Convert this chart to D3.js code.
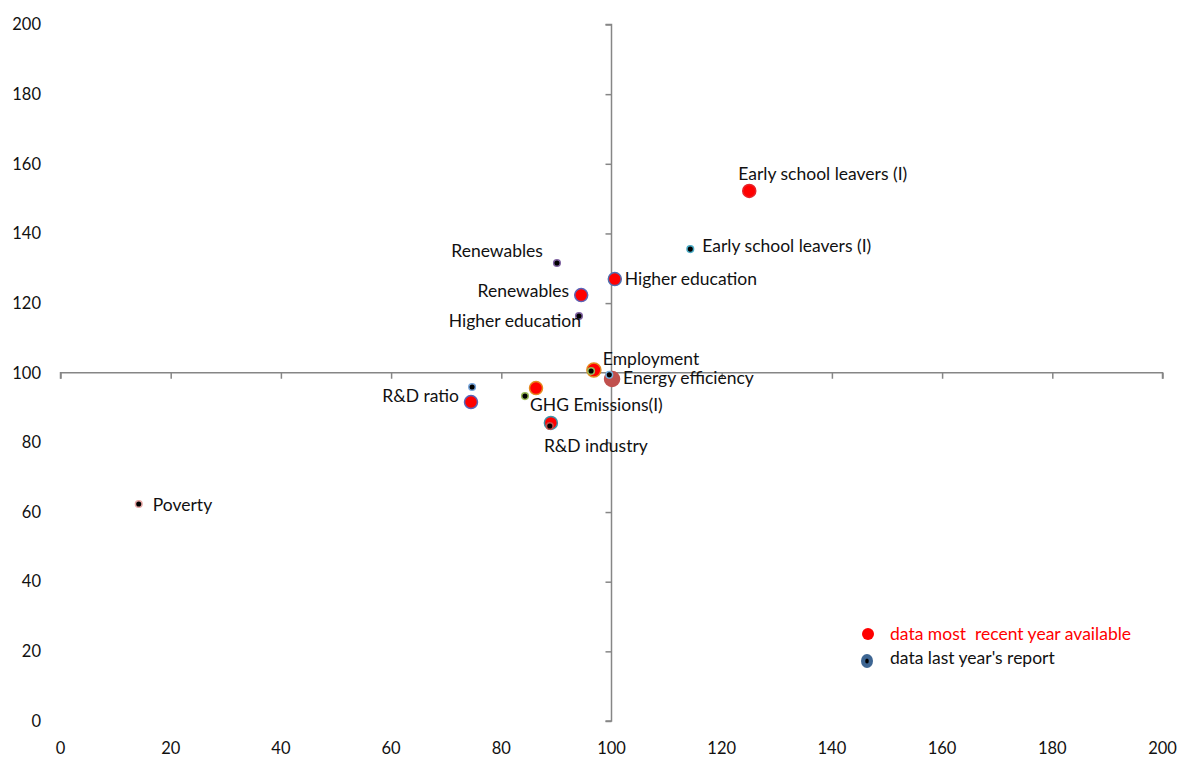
<!DOCTYPE html>
<html>
<head>
<meta charset="utf-8">
<script src="https://cdn.jsdelivr.net/npm/d3@7"></script>
<style>
  html, body { margin: 0; padding: 0; background: #fff; }
  svg { display: block; }
  text { font-family: Lato, "Open Sans", sans-serif; fill: #111; }
</style>
</head>
<body>
<svg id="chart" width="1179" height="758"></svg>
<script>
// Indicators, index values (EU target = 100)
const indicators = ["Early school leavers (I)", "Higher education", "Renewables", "Employment",
  "Energy efficiency", "R&D ratio", "GHG Emissions(I)", "R&D industry", "Poverty"];

// most recent year available
const recentX = [125, 100.6, 94.5, 96.8, 100.1, 74.5, 86.3, 89.0, null];
const recentY = [152.2, 126.9, 122.3, 100.8, 98.2, 91.6, 95.6, 85.6, null];

// last year's report
const lastX = [114.3, 94.1, 90.1, 96.3, 99.6, 74.7, 84.3, 88.8, 14.2];
const lastY = [135.5, 116.3, 131.5, 100.5, 99.4, 95.9, 93.3, 84.7, 62.3];

const xTicks = [0, 20, 40, 60, 80, 100, 120, 140, 160, 180, 200];
const yTicks = [0, 20, 40, 60, 80, 100, 120, 140, 160, 180, 200];

const legendLabels = ["data most  recent year available", "data last year's report"];

// marker styling
const recentStyle = {
  "Early school leavers (I)": { fill: "#ff0000", stroke: "#e8232a", r: 6.5 },
  "Higher education": { fill: "#ff0000", stroke: "#4f6fb0", r: 6.5 },
  "Renewables": { fill: "#ff0000", stroke: "#5a64b8", r: 6.5 },
  "Employment": { fill: "#ff0000", stroke: "#e58a1e", r: 7 },
  "Energy efficiency": { fill: "#c0504d", stroke: "#c0504d", r: 7.5 },
  "R&D ratio": { fill: "#ff0000", stroke: "#5a64b8", r: 6.5 },
  "GHG Emissions(I)": { fill: "#ff0000", stroke: "#e58a1e", r: 6.5 },
  "R&D industry": { fill: "#ff0000", stroke: "#3f93a8", r: 6.5 }
};
const lastStyle = {
  "Early school leavers (I)": "#4bacc6",
  "Higher education": "#8064a2",
  "Renewables": "#8064a2",
  "Employment": "#9bbb59",
  "Energy efficiency": "#78b0dc",
  "R&D ratio": "#78a6dc",
  "GHG Emissions(I)": "#9bbb59",
  "R&D industry": "#c0504d",
  "Poverty": "#e6a6a4"
};

// label placement: [which point, index, text, dx, dy, anchor]
const labelPlace = [
  ["recent", 0, "Early school leavers (I)", -11, -17, "start"],
  ["last", 0, "Early school leavers (I)", 12, -3, "start"],
  ["recent", 1, "Higher education", 10, 0, "start"],
  ["last", 2, "Renewables", -14, -12, "end"],
  ["recent", 2, "Renewables", -12, -4, "end"],
  ["last", 1, "Higher education", 2, 5, "end"],
  ["recent", 3, "Employment", 9, -11, "start"],
  ["recent", 4, "Energy efficiency", 11, -1, "start"],
  ["recent", 5, "R&D ratio", -12, -6, "end"],
  ["recent", 6, "GHG Emissions(I)", -6, 17, "start"],
  ["recent", 7, "R&D industry", -7, 23, "start"],
  ["last", 8, "Poverty", 14, 1, "start"]
];

const svg = d3.select("#chart");
const x = d3.scaleLinear().domain([0, 200]).range([60.5, 1162.5]);
const y = d3.scaleLinear().domain([0, 200]).range([721, 24.5]);
const axisColor = "#868686";
const labelSize = 17.5;

// axes cross at (100, 100)
const yAxis = svg.append("g")
  .attr("transform", `translate(${x(100)},0)`)
  .call(d3.axisLeft(y).tickValues(yTicks).tickSize(6).tickFormat(""));
const xAxis = svg.append("g")
  .attr("transform", `translate(0,${y(100)})`)
  .call(d3.axisBottom(x).tickValues(xTicks).tickSize(6).tickFormat(""));
[yAxis, xAxis].forEach(g => {
  g.selectAll("path").attr("stroke", axisColor).attr("stroke-width", 1.5);
  g.selectAll("line").attr("stroke", axisColor).attr("stroke-width", 1.5);
});
xAxis.select("path").attr("d", `M${x(0)},6V0H${x(200)}V6`);
yAxis.select("path").attr("d", `M-6,${y(200)}H0V${y(0)}H-6`);

// tick labels along the outer edges
svg.append("g").selectAll("text").data(yTicks).join("text")
  .attr("x", 41).attr("y", d => y(d)).attr("dy", "0.35em")
  .attr("text-anchor", "end").attr("font-size", 16.5).text(d => d);
svg.append("g").selectAll("text").data(xTicks).join("text")
  .attr("x", d => x(d)).attr("y", 748).attr("dy", "0.35em")
  .attr("text-anchor", "middle").attr("font-size", 16.5).text(d => d);

// points
const recent = indicators.map((k, i) => ({ k, x: recentX[i], y: recentY[i] })).filter(d => d.x != null);
const last = indicators.map((k, i) => ({ k, x: lastX[i], y: lastY[i] }));

svg.append("g").selectAll("circle").data(recent).join("circle")
  .attr("cx", d => x(d.x)).attr("cy", d => y(d.y))
  .attr("r", d => recentStyle[d.k].r)
  .attr("fill", d => recentStyle[d.k].fill)
  .attr("stroke", d => recentStyle[d.k].stroke).attr("stroke-width", 1.5);

svg.append("g").selectAll("circle").data(last).join("circle")
  .attr("cx", d => x(d.x)).attr("cy", d => y(d.y)).attr("r", 3.3)
  .attr("fill", "#000")
  .attr("stroke", d => lastStyle[d.k]).attr("stroke-width", 1.5);

// point labels
svg.append("g").selectAll("text").data(labelPlace).join("text")
  .attr("x", d => x((d[0] === "recent" ? recentX : lastX)[d[1]]) + d[3])
  .attr("y", d => y((d[0] === "recent" ? recentY : lastY)[d[1]]) + d[4])
  .attr("dy", "0.35em").attr("text-anchor", d => d[5])
  .attr("font-size", labelSize).text(d => d[2]);

// legend
const legend = svg.append("g");
legend.append("circle").attr("cx", 868).attr("cy", 634).attr("r", 6).attr("fill", "#ff0000");
legend.append("ellipse").attr("cx", 867).attr("cy", 661).attr("rx", 6).attr("ry", 7).attr("fill", "#3d6592");
legend.append("ellipse").attr("cx", 867).attr("cy", 661).attr("rx", 1.8).attr("ry", 2.5).attr("fill", "#000");
legend.append("text").attr("x", 890).attr("y", 634).attr("dy", "0.35em")
  .attr("font-size", labelSize).style("fill", "#ff0000").style("white-space", "pre").text(legendLabels[0]);
legend.append("text").attr("x", 890).attr("y", 658).attr("dy", "0.35em")
  .attr("font-size", labelSize).text(legendLabels[1]);
</script>
</body>
</html>
